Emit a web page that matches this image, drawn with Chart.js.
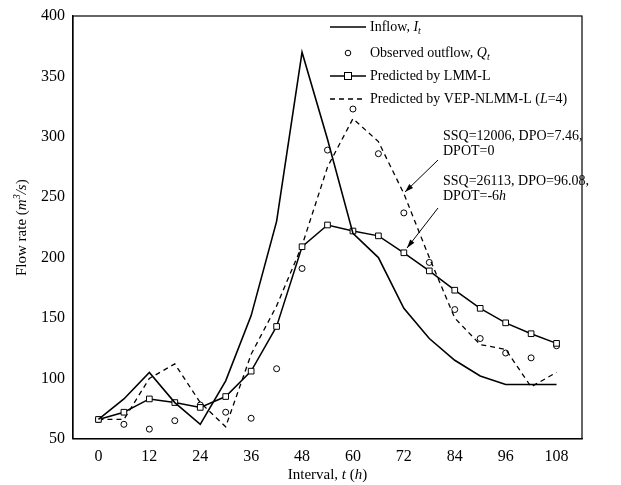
<!DOCTYPE html>
<html><head>
<script src="https://cdn.jsdelivr.net/npm/chart.js@4"></script>
<style>body{margin:0;background:#fff}#wrap{width:621px;height:485px}</style>
</head><body><div id="wrap"><canvas id="c"></canvas></div>
<script>
const hours = [0,6,12,18,24,30,36,42,48,54,60,66,72,78,84,90,96,102,108];
const inflow = [66,83,105,80,62,98,152,230,370,298,220,200,158,133,115,102,95,95,95];
const observed = [66,62,58,65,78,72,67,108,191,289,323,286,237,196,157,133,121,117,127];
const lmm = [66,72,83,80,76,85,106,143,209,227,222,218,204,189,173,158,146,137,129];
const vep = [66,66,100,112,80,60,120,160,210,275,315,296,253,200,150,128,124,93,105];
const xTicks = [0,12,24,36,48,60,72,84,96,108];
const yTicks = [50,100,150,200,250,300,350,400];
const F = '"Liberation Serif", serif';

const pts = a => a.map((v,i)=>({x:hours[i],y:v}));

const overlay = {
  id:'overlay',
  afterDraw(ch){
    const c = ch.ctx, a = ch.chartArea;
    c.save();
    c.fillStyle='#000'; c.strokeStyle='#000'; c.textBaseline='middle';
    const rich=(parts,x,y,sz=14)=>{parts.forEach(([t,it,sub])=>{c.font=(it?'italic ':'')+(sub?Math.round(sz*0.7):sz)+'px '+F;c.fillText(t,x,y+(sub?4:0));x+=c.measureText(t).width;});};
    const richW=(parts,sz)=>parts.reduce((w,[t,it,sub])=>{c.font=(it?'italic ':'')+(sub?Math.round(sz*0.7):sz)+'px '+F;return w+c.measureText(t).width;},0);
    // frame
    c.lineWidth=1.2; c.strokeRect(a.left,a.top,a.right-a.left,a.bottom-a.top);
    // legend
    const lx=330, lx2=366, tx=370, rows=[27,53,76,99];
    c.lineWidth=1.5;
    c.beginPath(); c.moveTo(lx,rows[0]); c.lineTo(lx2,rows[0]); c.stroke();
    c.lineWidth=1; c.beginPath(); c.arc((lx+lx2)/2,rows[1],2.8,0,Math.PI*2); c.stroke();
    c.lineWidth=1.5; c.beginPath(); c.moveTo(lx,rows[2]); c.lineTo(lx2,rows[2]); c.stroke();
    c.fillStyle='#fff'; c.fillRect((lx+lx2)/2-3.5,rows[2]-3.5,7,7);
    c.lineWidth=1; c.strokeRect((lx+lx2)/2-3.5,rows[2]-3.5,7,7);
    c.lineWidth=1.3; c.setLineDash([5,4]); c.beginPath(); c.moveTo(lx,rows[3]); c.lineTo(lx2,rows[3]); c.stroke(); c.setLineDash([]);
    c.fillStyle='#000';
    rich([['Inflow, '],['I',1],['t',1,1]],tx,rows[0]);
    rich([['Observed outflow, '],['Q',1],['t',1,1]],tx,rows[1]);
    rich([['Predicted by LMM-L']],tx,rows[2]);
    rich([['Predicted by VEP-NLMM-L ('],['L',1],['=4)']],tx,rows[3]);
    // annotations
    rich([['SSQ=12006, DPO=7.46,']],443,136);
    rich([['DPOT=0']],443,151);
    rich([['SSQ=26113, DPO=96.08,']],443,181);
    rich([['DPOT=-6'],['h',1]],443,196);
    const arrow=(x1,y1,x2,y2)=>{c.lineWidth=1;c.beginPath();c.moveTo(x1,y1);c.lineTo(x2,y2);c.stroke();
      const an=Math.atan2(y2-y1,x2-x1),L=9;c.beginPath();c.moveTo(x2,y2);
      c.lineTo(x2-L*Math.cos(an-0.3),y2-L*Math.sin(an-0.3));c.lineTo(x2-L*Math.cos(an+0.3),y2-L*Math.sin(an+0.3));c.closePath();c.fill();};
    arrow(438,160,405,192);
    arrow(438,208,407,248);
    // axis titles
    const xt=[['Interval, '],['t',1],[' ('],['h',1],[')']];
    rich(xt,(a.left+a.right)/2-richW(xt,15)/2,475,15);
    const yt=[['Flow rate ('],['m',1],['3',1,'sup'],['/',1],['s',1],[')']];
    c.translate(22,(a.top+a.bottom)/2); c.rotate(-Math.PI/2);
    let x=-richW(yt,15)/2;
    yt.forEach(([t,it,sub])=>{c.font=(it?'italic ':'')+(sub?10:15)+'px '+F;c.fillText(t,x,sub?-5:0);x+=c.measureText(t).width;});
    c.restore();
  }
};

new Chart(document.getElementById('c'),{
  type:'scatter',
  data:{datasets:[
    {data:pts(inflow),showLine:true,borderColor:'#000',borderWidth:1.6,pointRadius:0},
    {data:pts(lmm),showLine:true,borderColor:'#000',borderWidth:1.5,pointStyle:'rect',pointRadius:4,pointBackgroundColor:'#fff',pointBorderColor:'#000',pointBorderWidth:1},
    {data:pts(vep),showLine:true,borderColor:'#000',borderWidth:1.3,borderDash:[5,4],pointRadius:0},
    {data:pts(observed),showLine:false,pointStyle:'circle',pointRadius:3,pointBackgroundColor:'rgba(0,0,0,0)',pointBorderColor:'#000',pointBorderWidth:1}
  ]},
  options:{
    responsive:true,maintainAspectRatio:false,animation:false,
    layout:{padding:{top:16,right:39,left:38,bottom:16}},
    plugins:{legend:{display:false},tooltip:{enabled:false}},
    scales:{
      x:{type:'linear',min:-6,max:114,
        afterBuildTicks:a=>{a.ticks=xTicks.map(v=>({value:v}));},
        grid:{display:false,tickLength:5,tickColor:'#000'},border:{color:'#000',width:1.2},
        ticks:{color:'#000',font:{family:F,size:16},maxRotation:0,padding:3}},
      y:{min:50,max:400,
        afterBuildTicks:a=>{a.ticks=yTicks.map(v=>({value:v}));},
        grid:{display:false,tickLength:5,tickColor:'#000'},border:{color:'#000',width:1.2},
        ticks:{color:'#000',font:{family:F,size:16},padding:3}}
    }
  },
  plugins:[overlay]
});
</script></body></html>
